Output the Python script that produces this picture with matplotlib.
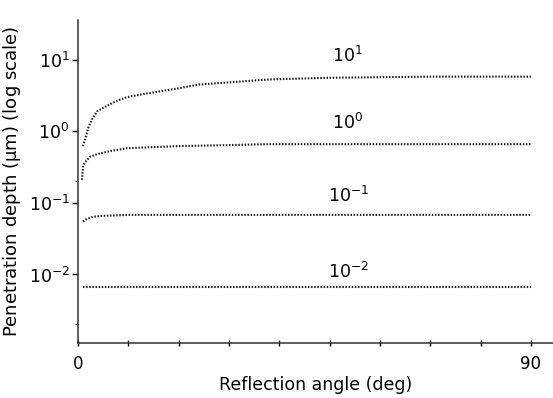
import matplotlib.pyplot as plt

# penetration depth vs reflection angle, one curve per order of magnitude
angles_1 = [1.0, 1.6, 2.0, 2.8, 3.8, 5.4, 7.4, 9.7, 12.9, 19.7, 24, 38, 50, 70, 90]
depth_1 = [0.62, 0.85, 1.10, 1.47, 1.9, 2.2, 2.6, 3.0, 3.3, 3.96, 4.5, 5.3, 5.6, 5.8, 5.8]

angles_0 = [0.8, 1.0, 1.4, 2.4, 3.8, 6.4, 9.7, 19.7, 38, 90]
depth_0 = [0.21, 0.33, 0.37, 0.44, 0.48, 0.53, 0.58, 0.62, 0.66, 0.66]

angles_m1 = [1.0, 1.8, 3.0, 5.0, 10, 90]
depth_m1 = [0.055, 0.060, 0.064, 0.066, 0.068, 0.068]

angles_m2 = [1.0, 90]
depth_m2 = [0.0066, 0.0066]

curve_labels = [r"$10^{1}$", r"$10^{0}$", r"$10^{-1}$", r"$10^{-2}$"]
label_x = [50.5, 50.5, 49.7, 49.7]
label_y = [9.4, 1.07, 0.103, 0.0088]

fig = plt.figure(figsize=(5.53, 3.98), dpi=100)
ax = fig.add_axes([0.141, 0.138, 0.859, 0.812])

for xs, ys in [(angles_1, depth_1), (angles_0, depth_0),
               (angles_m1, depth_m1), (angles_m2, depth_m2)]:
    ax.plot(xs, ys, color="#111111", lw=1.5, linestyle=(0, (0.7, 0.8)))

for txt, x, y in zip(curve_labels, label_x, label_y):
    ax.text(x, y, txt, fontsize=12.5, ha="left", va="baseline")

ax.set_yscale("log")
ax.set_xlim(0, 94.4)
ax.set_ylim(1.1e-3, 36)

ax.set_xticks(range(0, 91, 10))
ax.set_xticklabels(["0"] + [""] * 8 + ["90"])
ax.set_yticks([1e-2, 1e-1, 1, 10])
ax.set_yticklabels([r"$10^{-2}$", r"$10^{-1}$", r"$10^{0}$", r"$10^{1}$"])
ax.set_yticks([2e-3, 0.2], minor=True)
ax.set_yticklabels([], minor=True)

ax.tick_params(axis="x", direction="inout", length=5, width=1, labelsize=12, pad=6)
ax.tick_params(axis="y", which="major", direction="out", length=4, width=1, labelsize=12.5, pad=2)
ax.tick_params(axis="y", which="minor", direction="out", length=2, width=0.8)

for side in ["top", "right"]:
    ax.spines[side].set_visible(False)
for side in ["left", "bottom"]:
    ax.spines[side].set_color("#333333")
    ax.spines[side].set_linewidth(1.1)

ax.set_xlabel("Reflection angle (deg)", fontsize=12.5, labelpad=2)
ax.set_ylabel(r"Penetration depth ($\mathrm{\mu}$m) (log scale)", fontsize=13, labelpad=4)

fig.savefig("out.png", dpi=100)
